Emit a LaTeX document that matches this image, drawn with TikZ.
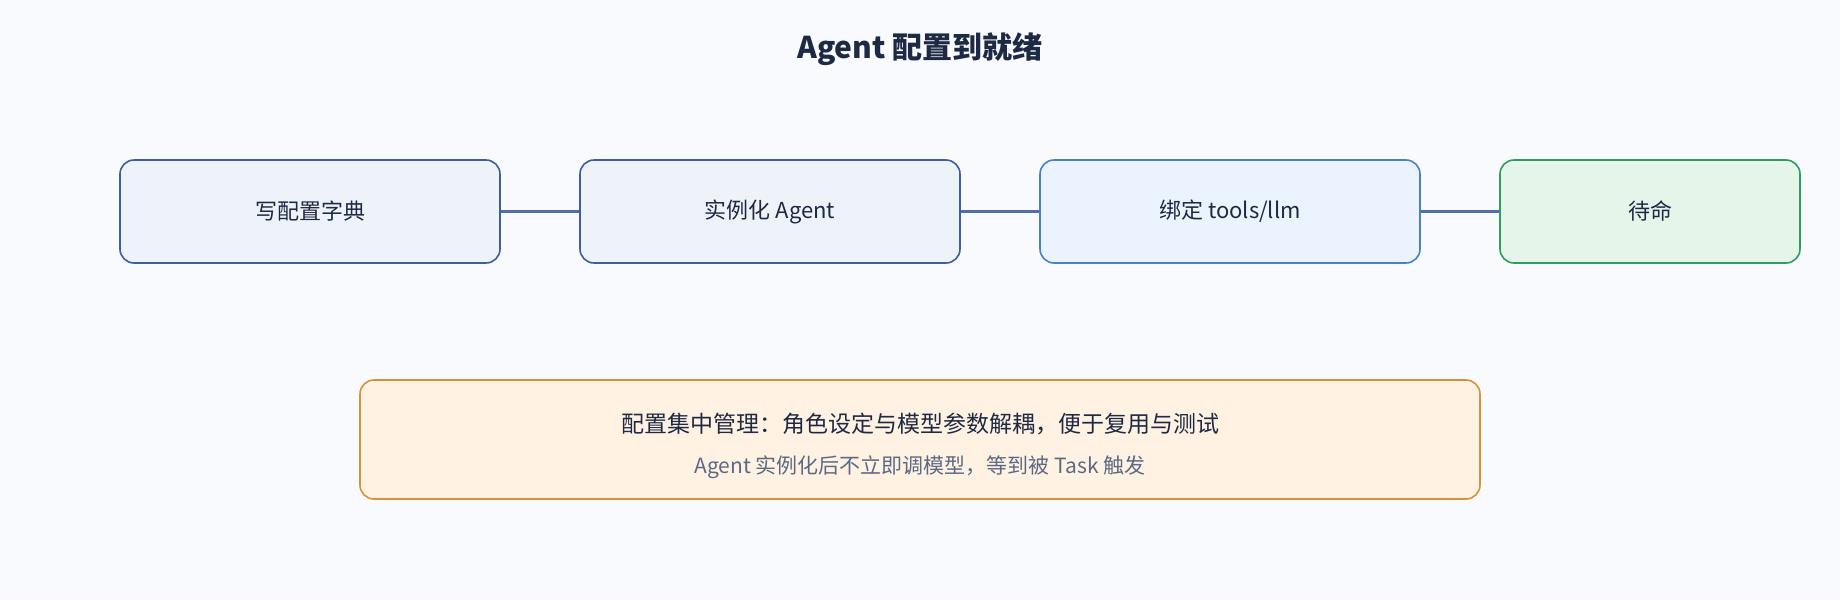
\documentclass[tikz,border=0pt]{standalone}
\usepackage{fontspec}
\setmainfont{Noto Sans CJK SC}
\usepackage{xcolor}
\definecolor{bgc}{HTML}{F8FAFE}
\definecolor{stepfill}{HTML}{EEF3FA}
\definecolor{stepline}{HTML}{3E5F9A}
\definecolor{bindfill}{HTML}{EBF3FF}
\definecolor{bindline}{HTML}{4A80C8}
\definecolor{donefill}{HTML}{E6F5EA}
\definecolor{doneline}{HTML}{2E9E5E}
\definecolor{notefill}{HTML}{FFF2E3}
\definecolor{noteline}{HTML}{D4923A}
\definecolor{txt}{HTML}{1E2A44}
\definecolor{subtxt}{HTML}{5A6A85}
\begin{document}
\begin{tikzpicture}[x=1pt,y=-1pt,
  stagebox/.style={draw=stepline,fill=stepfill,line width=1.6pt,rounded corners=14pt,
    minimum width=380pt,minimum height=103pt,font=\fontsize{22}{26}\selectfont,text=txt},
  link/.style={draw=stepline!90!white,line width=3.5pt}]
  \fill[bgc] (0,0) rectangle (1840,600);
  \useasboundingbox (0,0) rectangle (1840,600);
  \node[font=\fontsize{30}{36}\selectfont\bfseries,text=txt] (title) at (920,49) {Agent 配置到就绪};
  \node[stagebox] (a) at (310,211.5) {写配置字典};
  \node[stagebox] (b) at (770,211.5) {实例化 Agent};
  \node[stagebox,draw=bindline,fill=bindfill] (c) at (1230,211.5) {绑定 tools/llm};
  \node[stagebox,draw=doneline,fill=donefill,minimum width=300pt] (d) at (1650,211.5) {待命};
  \draw[link] (a) -- (b) (b) -- (c) (c) -- (d);
  \node[draw=noteline,fill=notefill,line width=1.6pt,rounded corners=14pt,
    minimum width=1120pt,minimum height=119pt] (note) at (920,439.5) {};
  \node[font=\fontsize{23}{28}\selectfont,text=txt] (l1) at (920,424) {配置集中管理：角色设定与模型参数解耦，便于复用与测试};
  \node[font=\fontsize{21}{26}\selectfont,text=subtxt] (l2) at (920,467) {Agent 实例化后不立即调模型，等到被 Task 触发};
\end{tikzpicture}
\end{document}
